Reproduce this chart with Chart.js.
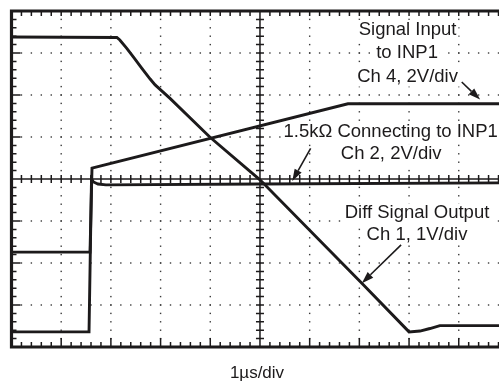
<!DOCTYPE html>
<html>
<head>
<meta charset="utf-8">
<script src="https://cdn.jsdelivr.net/npm/chart.js@4.4.1/dist/chart.umd.min.js"></script>
<style>
  html, body { margin: 0; padding: 0; background: #fff; overflow: hidden; }
  #wrap { position: relative; width: 499px; height: 381px; }
</style>
</head>
<body>
<div id="wrap"><canvas id="scopeChart"></canvas></div>
<script>
// everything in screen divisions: x = 1us/div, y = per-channel V/div, 0 at centre line
const ch1X = [0, 2.12, 2.18, 2.32, 2.47, 2.62, 2.79, 2.89, 3.19, 3.99, 5.0, 7.05, 8.0, 8.22, 8.42, 8.62, 10];
const ch1Y = [3.38, 3.37, 3.31, 3.11, 2.88, 2.64, 2.38, 2.24, 1.92, 1.0, -0.02, -2.48, -3.64, -3.62, -3.56, -3.49, -3.49];

const ch4X = [0, 1.58, 1.62, 6.77, 10];
const ch4Y = [-1.74, -1.74, 0.26, 1.79, 1.79];

const ch2X = [0, 1.56, 1.61, 1.65, 1.74, 1.90, 5.0, 10];
const ch2Y = [-3.64, -3.64, 0.0, -0.07, -0.12, -0.14, -0.12, -0.09];

const gridX = [1, 2, 3, 4, 6, 7, 8, 9];
const gridY = [-3, -2, -1, 1, 2, 3];
const xMin = 0, xMax = 9.81, yMin = -4, yMax = 4;

const noteText = ['Signal Input', 'to INP1', 'Ch 4, 2V/div', '1.5k\u03A9 Connecting to INP1', 'Ch 2, 2V/div', 'Diff Signal Output', 'Ch 1, 1V/div'];
const noteX = [7.97, 7.96, 7.97, 7.63, 7.64, 8.16, 8.16];
const noteY = [3.43, 2.87, 2.32, 1.01, 0.47, -0.94, -1.45];

const arrowFrom = [[9.06, 2.31], [6.02, 0.73], [7.84, -1.57]];
const arrowTo = [[9.43, 1.89], [5.65, -0.05], [7.05, -2.48]];

const axisTitle = '1\u00B5s/div';
const axisTitleX = 4.94, axisTitleY = -4.74;

const ink = '#1c1a1b';
const noteFont = '18.5px "Liberation Sans", Arial, sans-serif';

const toPoints = (xs, ys) => xs.map((x, i) => ({ x: x, y: ys[i] }));

function steps(from, to) {
    const out = [];
    const n = Math.round((to - from) / 0.2);
    for (let i = 0; i <= n; i++) out.push(from + i * 0.2);
    return out;
}

function drawArrow(ctx, x1, y1, x2, y2) {
    const ang = Math.atan2(y2 - y1, x2 - x1);
    const len = 12, half = 4;
    const bx = x2 - Math.cos(ang) * len, by = y2 - Math.sin(ang) * len;
    ctx.beginPath();
    ctx.moveTo(x1, y1);
    ctx.lineTo(bx, by);
    ctx.stroke();
    ctx.beginPath();
    ctx.moveTo(x2, y2);
    ctx.lineTo(bx + Math.sin(ang) * half, by - Math.cos(ang) * half);
    ctx.lineTo(bx - Math.sin(ang) * half, by + Math.cos(ang) * half);
    ctx.closePath();
    ctx.fill();
}

const scopePlugin = {
    id: 'scope',
    beforeDatasetsDraw(chart) {
        const ctx = chart.ctx;
        const xs = chart.scales.x, ys = chart.scales.y;
        const a = chart.chartArea;
        const px = v => xs.getPixelForValue(v);
        const py = v => ys.getPixelForValue(v);
        ctx.save();

        // dotted graticule
        ctx.fillStyle = '#3a3a3a';
        gridX.forEach(v => {
            steps(yMin, yMax).forEach(t => ctx.fillRect(px(v) - 0.7, py(t) - 0.7, 1.4, 1.4));
        });
        gridY.forEach(v => {
            steps(xMin, 10).forEach(t => ctx.fillRect(px(t) - 0.7, py(v) - 0.7, 1.4, 1.4));
        });

        // white boxes behind the notes
        ctx.font = noteFont;
        ctx.fillStyle = '#fff';
        noteText.forEach((t, i) => {
            const w = ctx.measureText(t).width;
            ctx.fillRect(px(noteX[i]) - w / 2 - 2, py(noteY[i]) - 15, w + 4, 20);
        });

        // centre axes with minor ticks
        ctx.strokeStyle = ink;
        ctx.lineWidth = 1.5;
        ctx.beginPath();
        ctx.moveTo(px(5), a.top);
        ctx.lineTo(px(5), a.bottom);
        ctx.moveTo(a.left, py(0));
        ctx.lineTo(a.right, py(0));
        steps(yMin, yMax).forEach(t => {
            ctx.moveTo(px(5) - 4, py(t));
            ctx.lineTo(px(5) + 4, py(t));
        });
        steps(xMin, 10).forEach(t => {
            ctx.moveTo(px(t), py(0) - 4);
            ctx.lineTo(px(t), py(0) + 4);
        });
        // ticks on the frame edges
        steps(yMin, yMax).forEach(t => {
            const major = Math.abs(t - Math.round(t)) < 1e-6;
            ctx.moveTo(a.left, py(t));
            ctx.lineTo(a.left + (major ? 9 : 5), py(t));
        });
        steps(xMin, 10).forEach(t => {
            const major = Math.abs(t - Math.round(t)) < 1e-6;
            ctx.moveTo(px(t), a.top);
            ctx.lineTo(px(t), a.top + 5);
            ctx.moveTo(px(t), a.bottom);
            ctx.lineTo(px(t), a.bottom - (major ? 9 : 5));
        });
        ctx.stroke();
        ctx.restore();
    },
    afterDatasetsDraw(chart) {
        const ctx = chart.ctx;
        const xs = chart.scales.x, ys = chart.scales.y;
        const a = chart.chartArea;
        const px = v => xs.getPixelForValue(v);
        const py = v => ys.getPixelForValue(v);
        ctx.save();

        // frame (right side falls outside the picture)
        ctx.strokeStyle = ink;
        ctx.lineWidth = 3.2;
        ctx.beginPath();
        ctx.moveTo(a.right + 2, a.top);
        ctx.lineTo(a.left, a.top);
        ctx.lineTo(a.left, a.bottom);
        ctx.lineTo(a.right + 2, a.bottom);
        ctx.stroke();

        ctx.fillStyle = ink;
        ctx.font = noteFont;
        ctx.textAlign = 'center';
        ctx.textBaseline = 'alphabetic';
        noteText.forEach((t, i) => ctx.fillText(t, px(noteX[i]), py(noteY[i])));
        ctx.font = '17px "Liberation Sans", Arial, sans-serif';
        ctx.fillText(axisTitle, px(axisTitleX), py(axisTitleY));

        ctx.lineWidth = 1.6;
        arrowFrom.forEach((f, i) => {
            drawArrow(ctx, px(f[0]), py(f[1]), px(arrowTo[i][0]), py(arrowTo[i][1]));
        });
        ctx.restore();
    }
};

const traceStyle = {
    borderColor: ink,
    borderWidth: 2.9,
    pointRadius: 0,
    showLine: true,
    tension: 0,
    fill: false
};

const config = {
    type: 'scatter',
    data: {
        datasets: [
            Object.assign({ label: 'Ch 1', data: toPoints(ch1X, ch1Y) }, traceStyle),
            Object.assign({ label: 'Ch 4', data: toPoints(ch4X, ch4Y) }, traceStyle),
            Object.assign({ label: 'Ch 2', data: toPoints(ch2X, ch2Y) }, traceStyle)
        ]
    },
    options: {
        responsive: true,
        maintainAspectRatio: false,
        animation: false,
        layout: { padding: { left: 11.5, top: 11, right: 0, bottom: 34 } },
        plugins: {
            legend: { display: false },
            tooltip: { enabled: false }
        },
        scales: {
            x: { type: 'linear', min: xMin, max: xMax, display: false },
            y: { type: 'linear', min: yMin, max: yMax, display: false }
        }
    },
    plugins: [scopePlugin]
};

new Chart('scopeChart', config);
</script>
</body>
</html>
